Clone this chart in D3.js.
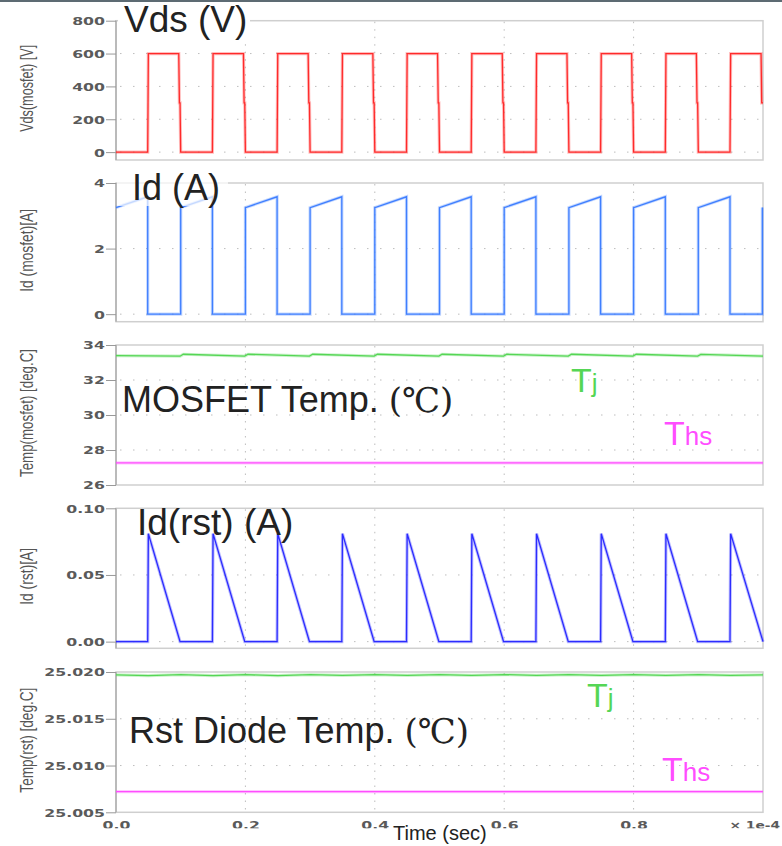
<!DOCTYPE html>
<html>
<head>
<meta charset="utf-8">
<script src="https://cdn.jsdelivr.net/npm/d3@7/dist/d3.min.js"></script>
<style>
  body { margin: 0; background: #fff; }
  svg { display: block; }
</style>
</head>
<body>
<svg id="chart" width="782" height="846"></svg>
<script>
// time is in units of 1e-4 s
const timeTicks = [0, 0.2, 0.4, 0.6, 0.8];

// Vds(mosfet) [V]
const vds = [
  [0,0],[0.049,0],[0.05,600],[0.097,600],[0.098,300],[0.099,300],[0.1,0],
  [0.149,0],[0.15,600],[0.197,600],[0.198,300],[0.199,300],[0.2,0],
  [0.249,0],[0.25,600],[0.297,600],[0.298,300],[0.299,300],[0.3,0],
  [0.349,0],[0.35,600],[0.397,600],[0.398,300],[0.399,300],[0.4,0],
  [0.449,0],[0.45,600],[0.497,600],[0.498,300],[0.499,300],[0.5,0],
  [0.549,0],[0.55,600],[0.597,600],[0.598,300],[0.599,300],[0.6,0],
  [0.649,0],[0.65,600],[0.697,600],[0.698,300],[0.699,300],[0.7,0],
  [0.749,0],[0.75,600],[0.797,600],[0.798,300],[0.799,300],[0.8,0],
  [0.849,0],[0.85,600],[0.897,600],[0.898,300],[0.899,300],[0.9,0],
  [0.949,0],[0.95,600],[0.997,600],[0.998,300],[1.0,300]
];

// Id(mosfet) [A]
const idMos = [
  [0,3.25],[0.049,3.58],[0.049,0],[0.1,0],
  [0.1,3.25],[0.149,3.58],[0.149,0],[0.2,0],
  [0.2,3.25],[0.249,3.58],[0.249,0],[0.3,0],
  [0.3,3.25],[0.349,3.58],[0.349,0],[0.4,0],
  [0.4,3.25],[0.449,3.58],[0.449,0],[0.5,0],
  [0.5,3.25],[0.549,3.58],[0.549,0],[0.6,0],
  [0.6,3.25],[0.649,3.58],[0.649,0],[0.7,0],
  [0.7,3.25],[0.749,3.58],[0.749,0],[0.8,0],
  [0.8,3.25],[0.849,3.58],[0.849,0],[0.9,0],
  [0.9,3.25],[0.949,3.58],[0.949,0],[0.999,0],[0.999,3.25]
];

// Temp(mosfet) [deg.C]
const tjMos = [
  [0,33.39],[0.099,33.36],[0.104,33.47],[0.199,33.37],[0.204,33.47],[0.299,33.37],
  [0.304,33.47],[0.399,33.37],[0.404,33.47],[0.499,33.37],[0.504,33.47],[0.599,33.37],
  [0.604,33.47],[0.699,33.37],[0.704,33.47],[0.799,33.37],[0.804,33.47],[0.899,33.37],
  [0.904,33.46],[1.0,33.36]
];
const thsMos = [[0,27.27],[1.0,27.27]];

// Id(rst) [A]
const idRst = [
  [0,0],[0.049,0],[0.05,0.081],[0.099,0],
  [0.149,0],[0.15,0.081],[0.199,0],
  [0.249,0],[0.25,0.081],[0.299,0],
  [0.349,0],[0.35,0.081],[0.399,0],
  [0.449,0],[0.45,0.081],[0.499,0],
  [0.549,0],[0.55,0.081],[0.599,0],
  [0.649,0],[0.65,0.081],[0.699,0],
  [0.749,0],[0.75,0.081],[0.799,0],
  [0.849,0],[0.85,0.081],[0.899,0],
  [0.949,0],[0.95,0.081],[1.0,0]
];

// Temp(rst) [deg.C]
const tjRst = [
  [0,25.01970],[0.05,25.01962],[0.1,25.01971],[0.15,25.01962],[0.2,25.01971],
  [0.25,25.01962],[0.3,25.01972],[0.35,25.01963],[0.4,25.01972],[0.45,25.01963],
  [0.5,25.01972],[0.55,25.01963],[0.6,25.01972],[0.65,25.01963],[0.7,25.01972],
  [0.75,25.01963],[0.8,25.01972],[0.85,25.01963],[0.9,25.01972],[0.95,25.01963],[1.0,25.01970]
];
const thsRst = [[0,25.0072],[1.0,25.0072]];

const red = "#ff2a2a", blue = "#3f7fff", blue2 = "#2b2bff", green = "#55d655", pink = "#ff4dff";

const panels = [
  { label: "Vds(mosfet) [V]", len: 87, top: 20.7, bottom: 160, domain: [-48, 800],
    ticks: [0, 200, 400, 600, 800], fmt: d3.format("d"),
    series: [{ data: vds, color: red }] },
  { label: "Id (mosfet)[A]", len: 83, top: 183, bottom: 321.7, domain: [-0.23, 4],
    ticks: [0, 2, 4], fmt: d3.format("d"),
    series: [{ data: idMos, color: blue }] },
  { label: "Temp(mosfet) [deg.C]", len: 128, top: 345, bottom: 485, domain: [26, 34],
    ticks: [26, 28, 30, 32, 34], fmt: d3.format("d"),
    series: [{ data: tjMos, color: green }, { data: thsMos, color: pink }] },
  { label: "Id (rst)[A]", len: 57, top: 508.3, bottom: 648.3, domain: [-0.005, 0.1],
    ticks: [0, 0.05, 0.1], fmt: d3.format(".2f"),
    series: [{ data: idRst, color: blue2 }] },
  { label: "Temp(rst) [deg.C]", len: 105, top: 672, bottom: 812.3, domain: [25.005, 25.020],
    ticks: [25.005, 25.010, 25.015, 25.020], fmt: d3.format(".3f"),
    series: [{ data: tjRst, color: green }, { data: thsRst, color: pink }] }
];

const svg = d3.select("#chart");
const x = d3.scaleLinear().domain([0, 1]).range([116, 763]);

svg.append("rect").attr("x", 0).attr("y", 0).attr("width", 782).attr("height", 2).attr("fill", "#5d6b73");

const stretch = "scale(1.43,1)";

panels.forEach(function(p) {
  const y = d3.scaleLinear().domain(p.domain).range([p.bottom, p.top]);
  const g = svg.append("g");

  // frame
  g.append("rect")
    .attr("x", x.range()[0]).attr("y", p.top)
    .attr("width", x.range()[1] - x.range()[0]).attr("height", p.bottom - p.top)
    .attr("fill", "none").attr("stroke", "#cfcfcf").attr("stroke-width", 1.5);

  // grid
  g.selectAll(".hg").data(p.ticks.filter(t => y(t) > p.top + 2 && y(t) < p.bottom - 2))
    .enter().append("line")
    .attr("x1", 120).attr("x2", 762)
    .attr("y1", d => y(d)).attr("y2", d => y(d))
    .attr("stroke", "#bdbdbd").attr("stroke-dasharray", "1.5,11.5");
  g.selectAll(".vg").data(timeTicks.slice(1))
    .enter().append("line")
    .attr("x1", d => x(d)).attr("x2", d => x(d))
    .attr("y1", p.top + 1).attr("y2", p.bottom - 1)
    .attr("stroke", "#bdbdbd").attr("stroke-dasharray", "1.5,6");

  // y axis
  const ax = g.append("g").attr("transform", "translate(116,0)")
    .call(d3.axisLeft(y).tickValues(p.ticks).tickFormat(p.fmt).tickSize(10).tickSizeOuter(0));
  ax.select(".domain").attr("stroke", "#999").attr("d", "M0," + p.top + "V" + p.bottom);
  ax.selectAll(".tick line").attr("stroke", "#999");
  ax.selectAll(".tick text")
    .attr("x", 0).attr("dy", "0.36em")
    .attr("transform", "translate(-11,0) " + stretch)
    .attr("fill", "#5a5a5a")
    .style("font-family", "DejaVu Sans").style("font-size", "11px").style("font-weight", "bold");

  // axis title
  svg.append("text")
    .attr("transform", "translate(33," + ((p.top + p.bottom) / 2 - 2) + ") scale(1.37,1) rotate(-90)")
    .attr("text-anchor", "middle")
    .attr("textLength", p.len).attr("lengthAdjust", "spacingAndGlyphs")
    .attr("fill", "#555")
    .style("font-family", "Liberation Sans, Arial").style("font-size", "13px")
    .text(p.label);

  // traces
  const line = d3.line().x(d => x(d[0])).y(d => y(d[1]));
  p.series.forEach(function(s) {
    g.append("path").datum(s.data).attr("d", line)
      .attr("fill", "none").attr("stroke", s.color).attr("stroke-opacity", 0.3).attr("stroke-width", 3.2);
    g.append("path").datum(s.data).attr("d", line)
      .attr("fill", "none").attr("stroke", s.color).attr("stroke-width", 1.3);
  });
});

// time axis
const xa = svg.append("g").attr("transform", "translate(0,812.3)")
  .call(d3.axisBottom(x).tickValues(timeTicks).tickFormat(d3.format(".1f")).tickSize(0));
xa.select(".domain").remove();
xa.selectAll(".tick text")
  .attr("y", 0).attr("dy", 0)
  .attr("transform", "translate(0,17) " + stretch)
  .attr("fill", "#5a5a5a")
  .style("font-family", "DejaVu Sans").style("font-size", "11px").style("font-weight", "bold");
svg.append("text")
  .attr("transform", "translate(780,829.3) scale(1.25,1)")
  .attr("text-anchor", "end")
  .attr("fill", "#5a5a5a")
  .style("font-family", "DejaVu Sans").style("font-size", "11px").style("font-weight", "bold")
  .text("\u00d7 1e-4");
svg.append("rect").attr("x", 0).attr("y", 828.3).attr("width", 782).attr("height", 18).attr("fill", "#fff");

// annotations pasted over the plot
svg.append("rect").attr("x", 118).attr("y", 3).attr("width", 132).attr("height", 37).attr("fill", "#fff");
svg.append("rect").attr("x", 117).attr("y", 168).attr("width", 111).attr("height", 38).attr("fill", "#fff").attr("fill-opacity", 0.7);

const notes = [
  { text: "Vds (V)", x: 124, y: 32, size: 37 },
  { text: "Id (A)", x: 132, y: 200, size: 36 },
  { text: "MOSFET Temp. ", unit: "(\u2103)", x: 122, y: 412, size: 36 },
  { text: "Id(rst) (A)", x: 137, y: 535, size: 37 },
  { text: "Rst Diode Temp. ", unit: "(\u2103)", x: 129, y: 743, size: 36 }
];
notes.forEach(function(n) {
  const t = svg.append("text").attr("x", n.x).attr("y", n.y).attr("fill", "#222")
    .style("font-family", "Liberation Sans, Arial").style("font-size", n.size + "px")
    .text(n.text);
  if (n.unit) {
    t.append("tspan").style("font-family", "DejaVu Serif, Liberation Serif").style("font-size", "34px").text(n.unit);
  }
});

const subs = [
  { main: "T", sub: "j", x: 571, y: 392, color: green },
  { main: "T", sub: "hs", x: 664, y: 445, color: pink },
  { main: "T", sub: "j", x: 587, y: 707, color: green },
  { main: "T", sub: "hs", x: 662, y: 781, color: pink }
];
subs.forEach(function(s) {
  const t = svg.append("text").attr("x", s.x).attr("y", s.y).attr("fill", s.color)
    .style("font-family", "Liberation Sans, Arial").style("font-size", "34px")
    .text(s.main);
  t.append("tspan").style("font-size", "26px").text(s.sub);
});

svg.append("text").attr("x", 393).attr("y", 840).attr("fill", "#222")
  .style("font-family", "Liberation Sans, Arial").style("font-size", "20px")
  .text("Time (sec)");
</script>
</body>
</html>
